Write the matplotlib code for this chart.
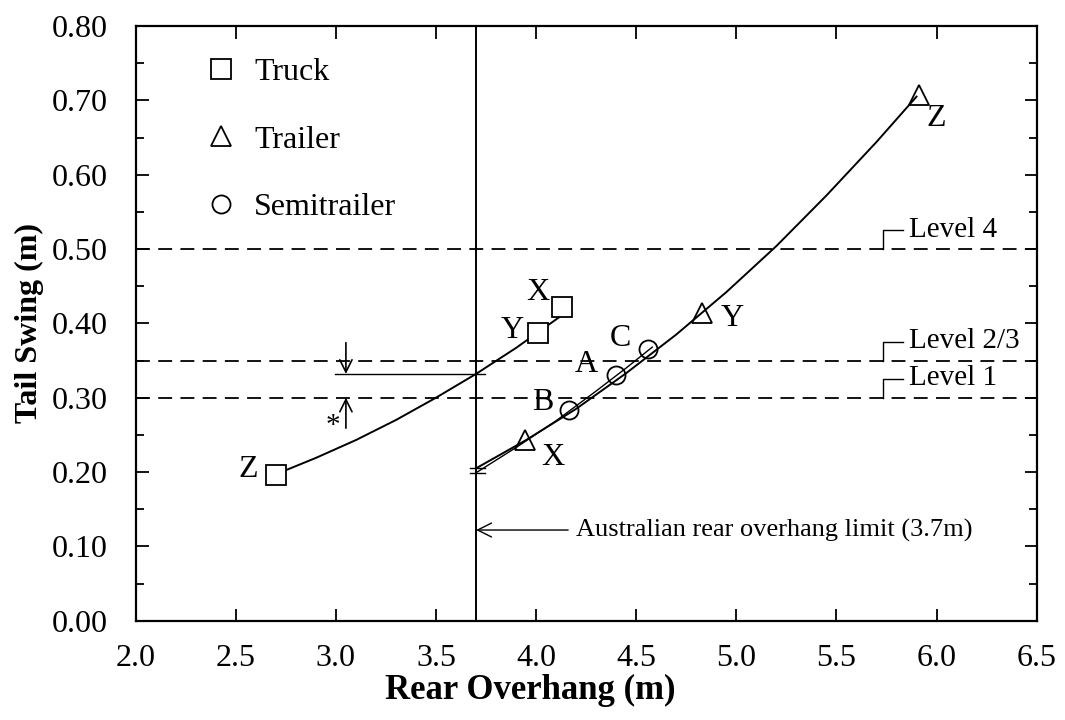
import matplotlib
matplotlib.use("Agg")
import matplotlib.pyplot as plt
from matplotlib.ticker import MultipleLocator

plt.rcParams['font.family'] = ['Liberation Serif', 'DejaVu Serif']
plt.rcParams['lines.scale_dashes'] = False

# ---------------- data ----------------
truck_x = [2.70, 4.01, 4.13]
truck_y = [0.196, 0.387, 0.422]
truck_lbl = ["Z", "Y", "X"]

trailer_x = [3.945, 4.83, 5.91]
trailer_y = [0.243, 0.414, 0.707]
trailer_lbl = ["X", "Y", "Z"]

semi_x = [4.165, 4.40, 4.56]
semi_y = [0.283, 0.331, 0.365]
semi_lbl = ["B", "A", "C"]

# fitted curves
truck_fit_x = [2.70, 2.90, 3.10, 3.30, 3.50, 3.70, 3.90, 4.02, 4.14]
truck_fit_y = [0.197, 0.219, 0.243, 0.270, 0.300, 0.332, 0.367, 0.390, 0.413]

trailer_fit_x = [3.70, 3.95, 4.20, 4.45, 4.70, 4.95, 5.20, 5.45, 5.70, 5.90]
trailer_fit_y = [0.205, 0.243, 0.285, 0.333, 0.385, 0.442, 0.504, 0.572, 0.644, 0.705]

semi_fit_x = [3.70, 3.90, 4.10, 4.30, 4.45, 4.58]
semi_fit_y = [0.199, 0.233, 0.269, 0.309, 0.340, 0.368]

levels = [0.50, 0.35, 0.30]
level_names = ["Level 4", "Level 2/3", "Level 1"]

limit_x = 3.7
truck_at_limit = 0.332

# ---------------- plot ----------------
fig = plt.figure(figsize=(10.65, 7.2), dpi=100)
ax = fig.add_axes([0.1274, 0.1379, 0.846, 0.826])

ax.plot(truck_fit_x, truck_fit_y, color="k", lw=1.4, zorder=2)
ax.plot(trailer_fit_x, trailer_fit_y, color="k", lw=1.4, zorder=2)
ax.plot(semi_fit_x, semi_fit_y, color="k", lw=1.0, zorder=2)

# start marks of the fits at the limit line
ax.plot([limit_x - 0.03, limit_x + 0.045], [trailer_fit_y[0]] * 2, color="k", lw=1.0)
ax.plot([limit_x - 0.03, limit_x + 0.045], [semi_fit_y[0]] * 2, color="k", lw=1.0)

ms = 14
ax.plot(truck_x, truck_y, ls="none", marker="s", ms=ms, mfc="white", mec="k",
        mew=1.3, label="Truck", zorder=3)
ax.plot(trailer_x, trailer_y, ls="none", marker="^", ms=ms, mfc="none", mec="k",
        mew=1.3, label="Trailer", zorder=3)
ax.plot(semi_x, semi_y, ls="none", marker="o", ms=ms - 1, mfc="none", mec="k",
        mew=1.3, label="Semitrailer", zorder=3)

# point labels
lbl_fs = 23
truck_off = [(-0.14, 0.007), (-0.13, 0.004), (-0.12, 0.019)]
trailer_off = [(0.14, -0.023), (0.15, -0.007), (0.09, -0.031)]
semi_off = [(-0.13, 0.010), (-0.15, 0.013), (-0.14, 0.015)]
for xs, ys, ls, offs in [(truck_x, truck_y, truck_lbl, truck_off),
                         (trailer_x, trailer_y, trailer_lbl, trailer_off),
                         (semi_x, semi_y, semi_lbl, semi_off)]:
    for x, y, s, (dx, dy) in zip(xs, ys, ls, offs):
        ax.text(x + dx, y + dy, s, fontsize=lbl_fs, ha="center", va="center")

# level lines
for lv, name in zip(levels, level_names):
    ax.axhline(lv, color="k", lw=1.3, dashes=(10, 6), zorder=1)
    ax.plot([5.73, 5.73, 5.83], [lv, lv + 0.025, lv + 0.025], color="k", lw=1.0)
    ax.text(5.86, lv + 0.026, name, fontsize=21, ha="left", va="center")

# limit line
ax.axvline(limit_x, color="k", lw=1.4, zorder=1)
ax.annotate("", xy=(limit_x, 0.122), xytext=(4.16, 0.122),
            arrowprops=dict(arrowstyle="->", color="k", lw=1.0,
                            mutation_scale=25, shrinkA=0, shrinkB=0))
ax.text(4.20, 0.122, "Australian rear overhang limit (3.7m)", fontsize=19,
        ha="left", va="center")

# dimension '*' between level 1 and truck value at limit
ax.plot([2.997, limit_x + 0.045], [truck_at_limit] * 2, color="k", lw=1.0)
ax.annotate("", xy=(3.05, truck_at_limit), xytext=(3.05, 0.374),
            arrowprops=dict(arrowstyle="->", color="k", lw=1.2,
                            mutation_scale=22, shrinkA=0, shrinkB=0))
ax.annotate("", xy=(3.05, levels[2]), xytext=(3.05, 0.259),
            arrowprops=dict(arrowstyle="->", color="k", lw=1.2,
                            mutation_scale=22, shrinkA=0, shrinkB=0))
ax.text(2.985, 0.262, "*", fontsize=21, ha="center", va="center")

# axes
ax.set_xlim(2.0, 6.5)
ax.set_ylim(0.0, 0.8)
ax.xaxis.set_major_locator(MultipleLocator(0.5))
ax.yaxis.set_major_locator(MultipleLocator(0.1))
ax.yaxis.set_minor_locator(MultipleLocator(0.05))
ax.xaxis.set_major_formatter(plt.FormatStrFormatter("%.1f"))
ax.yaxis.set_major_formatter(plt.FormatStrFormatter("%.2f"))
ax.tick_params(which="both", direction="in", top=True, right=True,
               labelsize=23, width=1.3)
ax.tick_params(which="major", length=9)
ax.tick_params(which="minor", length=6)
ax.tick_params(axis="x", which="major", pad=17)
ax.tick_params(axis="y", which="major", pad=20)
for sp in ax.spines.values():
    sp.set_linewidth(1.6)

fig.text(0.498, 1 - 690 / 720, "Rear Overhang (m)", fontsize=25,
         fontweight="bold", ha="center", va="center")
fig.text(29 / 1065, 1 - 323 / 720, "Tail Swing (m)", fontsize=23,
         fontweight="bold", ha="center", va="center", rotation=90)

ax.legend(loc="upper left", bbox_to_anchor=(0.063, 0.968), frameon=False,
          fontsize=23, labelspacing=1.19, handlelength=1.0, handletextpad=0.53,
          borderaxespad=0)

fig.savefig("out.png", dpi=100)
